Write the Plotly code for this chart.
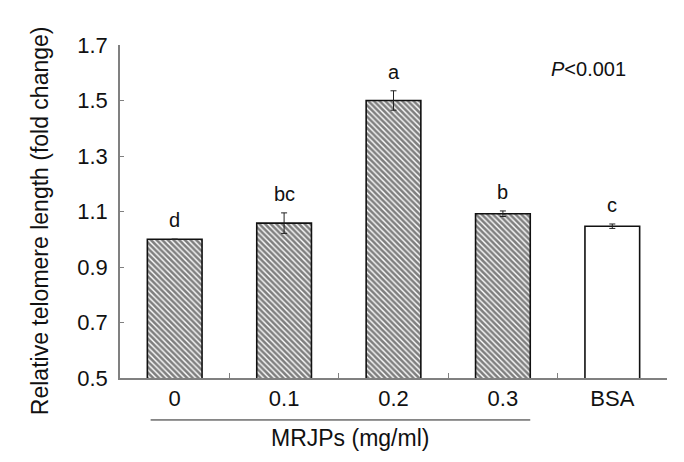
import plotly.graph_objects as go

categories = ["0", "0.1", "0.2", "0.3", "BSA"]
values = [1.00, 1.058, 1.50, 1.092, 1.047]
errors = [0.0, 0.037, 0.035, 0.010, 0.008]
letters = ["d", "bc", "a", "b", "c"]
patterns = ["\\", "\\", "\\", "\\", ""]
y_ticks = [0.5, 0.7, 0.9, 1.1, 1.3, 1.5, 1.7]

FONT = "Arial, Liberation Sans, sans-serif"
AXIS_COLOR = "#808080"

fig = go.Figure()
fig.add_trace(go.Bar(
    x=categories, y=values,
    marker=dict(
        color="white",
        line=dict(color="#111111", width=1.6),
        pattern=dict(shape=patterns, fgcolor="#000000", bgcolor="white",
                     size=4, solidity=0.65, fillmode="overlay"),
    ),
    error_y=dict(type="data", array=errors, color="#222222", thickness=1, width=3),
    width=0.5,
))

annotations = []
for i, (v, e, l) in enumerate(zip(values, errors, letters)):
    annotations.append(dict(x=i, y=v + e, xref="x", yref="y", text=l, showarrow=False,
                            xanchor="center", yanchor="bottom", yshift=6,
                            font=dict(size=20, color="#111", family=FONT)))

annotations.append(dict(x=0.856, y=0.928, xref="paper", yref="paper", text="<i>P</i>&lt;0.001",
                        showarrow=False, xanchor="center", yanchor="middle",
                        font=dict(size=20, color="#111", family=FONT)))
annotations.append(dict(x=1.6, y=-0.18, xref="x", yref="paper", text="MRJPs (mg/ml)",
                        showarrow=False, xanchor="center", yanchor="middle",
                        font=dict(size=23, color="#111", family=FONT)))
annotations.append(dict(x=-0.145, y=0.473, xref="paper", yref="paper",
                        text="Relative telomere length (fold change)", textangle=-90,
                        showarrow=False, xanchor="center", yanchor="middle",
                        font=dict(size=23, color="#111", family=FONT)))

fig.update_layout(
    width=684, height=462,
    margin=dict(l=112, r=25, t=37, b=92),
    paper_bgcolor="white", plot_bgcolor="white",
    showlegend=False,
    annotations=annotations,
    shapes=[dict(type="line", xref="x", yref="paper", x0=-0.22, x1=3.25, y0=-0.126, y1=-0.126,
                 line=dict(color="#222", width=1))],
    xaxis=dict(type="category", showline=True, linecolor=AXIS_COLOR, linewidth=1.5,
               ticks="inside", tickson="boundaries", ticklen=5, tickcolor=AXIS_COLOR,
               tickfont=dict(size=22, color="#111", family=FONT), range=[-0.5, 4.5],
               showgrid=False, zeroline=False),
    yaxis=dict(range=[0.5, 1.7], tickvals=y_ticks, ticktext=[f"{t:.1f}" for t in y_ticks],
               showline=True, linecolor=AXIS_COLOR, linewidth=1.5,
               ticks="inside", ticklen=4, tickcolor=AXIS_COLOR, ticklabelstandoff=6,
               tickfont=dict(size=22, color="#111", family=FONT),
               showgrid=False, zeroline=False),
)

fig.write_html("out.html")
